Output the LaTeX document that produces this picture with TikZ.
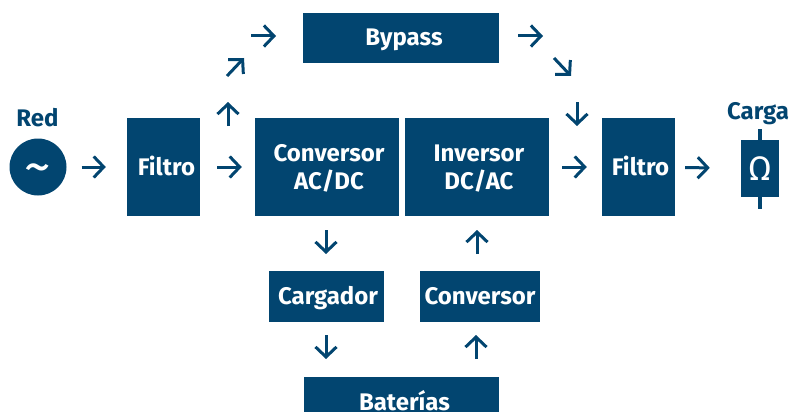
\documentclass[tikz,border=0pt]{standalone}
\usepackage{fontspec}
\setmainfont{Fira Sans}
\usetikzlibrary{arrows.meta}
\definecolor{ups}{HTML}{024570}
\newcommand{\firstline}{\rule{0pt}{20pt}}
\tikzset{
  blockbox/.style={fill=ups,text=white,inner sep=0pt,align=center,font=\fontsize{24}{28}\selectfont\bfseries},
  oneline/.style={text height=17pt,text depth=1pt},
  flow/.style={draw=ups,line width=3pt,-{Straight Barb[length=10pt,width=21pt,line width=3pt]}},
  lead/.style={draw=ups,line width=4pt},
  caption/.style={text=ups,inner sep=0pt,text height=17pt,text depth=1pt,font=\fontsize{24}{28}\selectfont\bfseries}
}
\begin{document}
\begin{tikzpicture}[x=1pt,y=-1pt]
\useasboundingbox (0,0) rectangle (790,412);
\clip (0,0) rectangle (790,412);
% sources
\node[circle,fill=ups,text=white,minimum size=57pt,inner sep=0pt] (red) at (38,167) {};
\node[text=white,inner sep=0pt,font=\fontsize{54}{54}\selectfont] (tilde) at (38,174) {\textasciitilde};
\node[caption] (redl) at (37.5,118) {Red};
% blocks
\node[blockbox,oneline,minimum width=73pt,minimum height=98pt] (f1) at (163.5,167) {\hspace*{6pt}Filtro};
\node[blockbox,minimum width=144pt,minimum height=98pt] (rect) at (327,167) {\hspace*{4pt}\firstline Conversor\\\hspace*{4pt}AC/DC};
\node[blockbox,minimum width=144pt,minimum height=98pt] (inv) at (477,167) {\hspace*{4pt}\firstline Inversor\\\hspace*{4pt}DC/AC};
\node[blockbox,oneline,minimum width=73pt,minimum height=98pt] (f2) at (638.5,167) {\hspace*{4pt}Filtro};
\node[blockbox,oneline,minimum width=196pt,minimum height=50pt] (by) at (401,38) {\hspace*{6pt}Bypass};
\node[blockbox,oneline,minimum width=115pt,minimum height=51pt] (cg) at (326.5,296.5) {\hspace*{3pt}Cargador};
\node[blockbox,oneline,minimum width=120pt,minimum height=51pt] (cv) at (480,296.5) {Conversor};
\node[blockbox,oneline,minimum width=195pt,minimum height=50pt] (bat) at (401.5,402) {\hspace*{6pt}Baterías};
% load
\node[caption] (cl) at (758,111) {Carga};
\coordinate (lt) at (760,129);
\coordinate (lb) at (760,209);
\draw[lead] (lt) -- (lb);
\node[fill=ups,text=white,minimum width=38pt,minimum height=57pt,inner sep=0pt,font=\fontsize{34}{34}\selectfont] (load) at (760,168.5) {Ω};
% free ends of the branch arrows
\coordinate (a1) at (228,126); \coordinate (a2) at (228,102);
\coordinate (b1) at (227,76);  \coordinate (b2) at (244,58);
\coordinate (c1) at (251,36);  \coordinate (c2) at (276,36);
\coordinate (d1) at (518,36);  \coordinate (d2) at (543,36);
\coordinate (e1) at (554,58);  \coordinate (e2) at (571,76);
\coordinate (g1) at (577,102); \coordinate (g2) at (577,126);
\coordinate (h1) at (326,230); \coordinate (h2) at (326,254);
\coordinate (i1) at (477,254); \coordinate (i2) at (477,230);
\coordinate (j1) at (326,335); \coordinate (j2) at (326,359);
\coordinate (k1) at (476,359); \coordinate (k2) at (476,335);
% connectors
\draw[flow,shorten <=15pt,shorten >=21pt] (red) -- (f1);
\draw[flow,shorten <=17pt,shorten >=13pt] (f1) -- (rect);
\draw[flow,shorten <=13pt,shorten >=15pt] (inv) -- (f2);
\draw[flow,shorten <=10pt,shorten >=31pt] (f2) -- (load);
\foreach \s/\t in {a1/a2,b1/b2,c1/c2,d1/d2,e1/e2,g1/g2,h1/h2,i1/i2,j1/j2,k1/k2}
  \draw[flow] (\s) -- (\t);
\end{tikzpicture}
\end{document}
